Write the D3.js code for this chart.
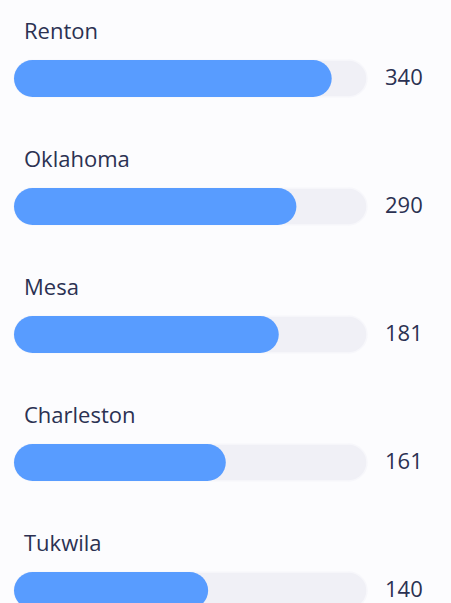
<!DOCTYPE html>
<html>
<head>
<meta charset="utf-8">
<script src="https://cdn.jsdelivr.net/npm/d3@7"></script>
<style>
  body { margin: 0; background: #fcfcfe; }
  text { font-family: "Open Sans", "Noto Sans", sans-serif; fill: #2b3152; }
</style>
</head>
<body>
<div id="chart"></div>
<script>
// data
const cities = ["Renton", "Oklahoma", "Mesa", "Charleston", "Tukwila"];
const counts = [340, 290, 181, 161, 140];
const percents = [90, 80, 75, 60, 55];

const W = 451, H = 603;
const margin = {top: 60, left: 14};
const trackW = 353, barH = 37, step = 128;

const svg = d3.select("#chart")
  .append("svg")
    .attr("width", W)
    .attr("height", H);

const data = cities.map((c, i) => ({city: c, count: counts[i], pct: percents[i]}));

// row position = top of each bar
const y = d3.scalePoint()
  .domain(cities)
  .range([margin.top, margin.top + step * (cities.length - 1)]);

const x = d3.scaleLinear()
  .domain([0, 100])
  .range([0, trackW]);

const row = svg.selectAll("g.row")
  .data(data)
  .enter().append("g")
    .attr("class", "row")
    .attr("transform", d => "translate(" + margin.left + "," + y(d.city) + ")");

// grey track
row.append("rect")
  .attr("x", 0)
  .attr("y", 0)
  .attr("width", x(100))
  .attr("height", barH)
  .attr("rx", barH / 2)
  .attr("fill", "#f0f0f6")
  .attr("stroke", "#f7f7fb")
  .attr("stroke-width", 1.5);

// blue fill
row.append("rect")
  .attr("x", 0)
  .attr("y", 0)
  .attr("width", d => x(d.pct))
  .attr("height", barH)
  .attr("rx", barH / 2)
  .attr("fill", "#589cff");

// city names
row.append("text")
  .attr("x", 10)
  .attr("y", -21)
  .text(d => d.city)
  .style("font-size", "22px");

// values
row.append("text")
  .attr("x", trackW + 18)
  .attr("y", barH / 2)
  .attr("dy", "0.3em")
  .text(d => d.count)
  .style("font-size", "22px");
</script>
</body>
</html>
